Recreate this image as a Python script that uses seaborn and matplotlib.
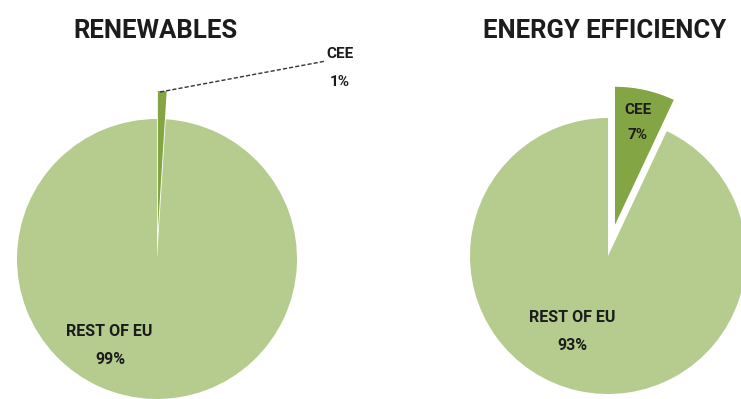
import matplotlib
matplotlib.use("Agg")
import matplotlib.pyplot as plt
import seaborn as sns

sns.set_style("white")
plt.rcParams['font.family'] = ['Roboto', 'DejaVu Sans']

# Data
titles = ["RENEWABLES", "ENERGY EFFICIENCY"]
categories = ["CEE", "REST OF EU"]
renewables = [1, 99]
efficiency = [7, 93]

colors = ["#84a544", "#b5cc8e"]
txt = "#1c1c1c"
W, H = 741, 399

fig = plt.figure(figsize=(W / 100, H / 100), dpi=100)
ax = fig.add_axes([0, 0, 1, 1])

def Y(py):
    return H - py

fkw = dict(fontweight="bold", color=txt, ha="center", va="center")

# Left pie (explode offset in pixel units)
ax.pie(renewables, center=(157, Y(259)), radius=140, startangle=90, counterclock=False,
       colors=colors, explode=[28, 0], wedgeprops=dict(linewidth=0), frame=True)
# Right pie
ax.pie(efficiency, center=(608, Y(256)), radius=138, startangle=90, counterclock=False,
       colors=colors, explode=[32, 0], wedgeprops=dict(linewidth=0), frame=True)
ax.set_xlim(0, W)
ax.set_ylim(0, H)
ax.set_aspect("equal")
ax.axis("off")

# Titles
ax.text(155, Y(31), titles[0], fontsize=18.5, **fkw)
ax.text(605, Y(31), titles[1], fontsize=18.5, **fkw)

# Left labels
ax.plot([160, 326], [Y(92), Y(61)], color="#333333", lw=1.0, ls=(0, (3, 1.5)))
ax.text(340, Y(54), categories[0], fontsize=11, **fkw)
ax.text(340, Y(82), f"{renewables[0]}%", fontsize=11, **fkw)
ax.text(109, Y(332), categories[1], fontsize=11.5, **fkw)
ax.text(110, Y(359), f"{renewables[1]}%", fontsize=11.5, **fkw)

# Right labels
ax.text(638, Y(110), categories[0], fontsize=11, **fkw)
ax.text(638, Y(135), f"{efficiency[0]}%", fontsize=11, **fkw)
ax.text(572, Y(318), categories[1], fontsize=11.5, **fkw)
ax.text(572, Y(345), f"{efficiency[1]}%", fontsize=11.5, **fkw)

fig.savefig("out.png", dpi=100, facecolor="white")
